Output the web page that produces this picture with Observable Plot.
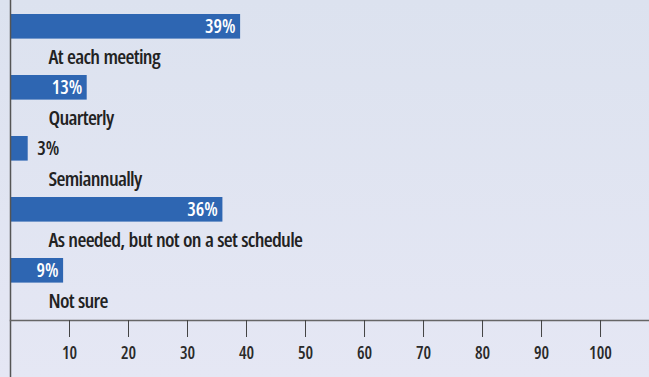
<!DOCTYPE html>
<html>
<head>
<meta charset="utf-8">
<script src="https://cdn.jsdelivr.net/npm/d3@7"></script>
<script src="https://cdn.jsdelivr.net/npm/@observablehq/plot@0.6"></script>
<style>
  html, body { margin: 0; padding: 0; background: #e1e5f2; }
  #chart svg { display: block; }
  #chart svg text { font-family: 'Open Sans', sans-serif; font-stretch: 75%; }
  .cat text { letter-spacing: -0.7px; word-spacing: 1px; }
</style>
</head>
<body>
<div id="chart"></div>
<script>
const categories = ["At each meeting", "Quarterly", "Semiannually", "As needed, but not on a set schedule", "Not sure"];
const values = [39, 13, 3, 36, 9];
const tickValues = [10, 20, 30, 40, 50, 60, 70, 80, 90, 100];

const data = categories.map((c, i) => ({category: c, value: values[i], label: values[i] + "%"}));

const W = 649, H = 377;
const mTop = 13, mBottom = 57;
const step = (H - mTop - mBottom) / categories.length;
const barH = 25;

const chart = Plot.plot({
  width: W,
  height: H,
  marginLeft: 10,
  marginRight: 0,
  marginTop: mTop,
  marginBottom: mBottom,
  style: {background: "linear-gradient(#dce2ef, #e5e7f4)", color: "#222"},
  x: {domain: [0, 108.3], ticks: tickValues, label: null},
  y: {domain: categories, padding: 0, axis: null},
  marks: [
    Plot.barX(data, {y: "category", x: "value", fill: "#2e66b2", insetTop: 0, insetBottom: step - barH}),
    Plot.text(data.filter(d => d.value >= 5), {className: "val", y: "category", x: "value", text: "label", textAnchor: "end", dx: -5, dy: -step / 2 + barH / 2, fill: "white", fontSize: 19, fontWeight: 600}),
    Plot.text(data.filter(d => d.value < 5), {className: "val", y: "category", x: "value", text: "label", textAnchor: "start", dx: 9, dy: -step / 2 + barH / 2, fill: "#222", fontSize: 19, fontWeight: 600}),
    Plot.text(data, {className: "cat", y: "category", x: 0, text: "category", textAnchor: "start", dx: 38, dy: 12, fill: "#222", fontSize: 20.5, fontWeight: 600}),
    Plot.ruleX([0], {stroke: "#555", strokeWidth: 1.5, insetTop: -mTop, insetBottom: -mBottom}),
    Plot.frame({anchor: "bottom", stroke: "#666", strokeWidth: 1.5}),
    Plot.axisX({className: "ax", anchor: "bottom", ticks: tickValues, tickSize: 17, tickPadding: 9, tickFormat: d => String(d), fontSize: 17, fontWeight: 600, stroke: "#444", fill: "#2a2a2a", label: null})
  ]
});
document.getElementById("chart").appendChild(chart);
</script>
</body>
</html>
